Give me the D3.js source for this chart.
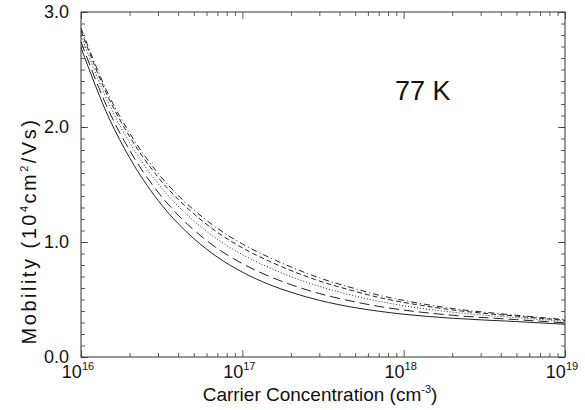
<!DOCTYPE html>
<html lang="en">
<head>
    <meta charset="UTF-8">
    <script src="https://cdn.jsdelivr.net/npm/d3@7"></script>
    <title>Mobility 77 K</title>
    <style>
        body {
            margin: 0;
            background: white;
        }

        text {
            font-family: "Liberation Sans", Arial, sans-serif;
            fill: #111;
        }

        .curve {
            fill: none;
            stroke: #222;
            stroke-width: 1px;
        }
    </style>
</head>
<body>
    <div id="chart"></div>

    <script>
        // carrier concentration (cm^-3) where the curves were read
        const concentration = [1e16, 1.5e16, 2e16, 3e16, 4e16, 5e16, 7e16, 1e17, 1.5e17, 2e17, 3e17, 5e17, 7e17, 1e18, 2e18, 5e18, 1e19];

        // mobility in 10^4 cm^2/Vs, lowest curve first
        const solidCurve = [2.69, 2.07, 1.733, 1.363, 1.16, 1.03, 0.869, 0.738, 0.625, 0.563, 0.493, 0.429, 0.398, 0.372, 0.337, 0.308, 0.285];
        const longDashCurve = [2.741, 2.129, 1.798, 1.434, 1.234, 1.105, 0.944, 0.812, 0.696, 0.629, 0.552, 0.479, 0.44, 0.408, 0.363, 0.325, 0.297];
        const dottedCurve = [2.795, 2.191, 1.866, 1.509, 1.312, 1.185, 1.024, 0.89, 0.771, 0.699, 0.614, 0.531, 0.485, 0.446, 0.39, 0.342, 0.31];
        const dashCurve = [2.836, 2.238, 1.918, 1.565, 1.371, 1.245, 1.084, 0.949, 0.827, 0.752, 0.661, 0.571, 0.518, 0.475, 0.41, 0.355, 0.319];
        const dashDotCurve = [2.86, 2.265, 1.948, 1.598, 1.405, 1.28, 1.119, 0.983, 0.86, 0.783, 0.688, 0.594, 0.538, 0.492, 0.422, 0.363, 0.325];

        const yTicks = [0, 1, 2, 3];
        const xTicks = [16, 17, 18, 19];

        const series = [
            { values: solidCurve, dash: null },
            { values: longDashCurve, dash: "10,5" },
            { values: dottedCurve, dash: "1,2" },
            { values: dashCurve, dash: "5,3" },
            { values: dashDotCurve, dash: "6,3,1,3" }
        ];

        const width = 585;
        const height = 410;
        const margin = { top: 12, right: 20, bottom: 53, left: 81 };
        const plotW = width - margin.left - margin.right;
        const plotH = height - margin.top - margin.bottom;

        const svg = d3.select("#chart").append("svg")
            .attr("width", width)
            .attr("height", height);

        const g = svg.append("g")
            .attr("transform", `translate(${margin.left},${margin.top})`);

        const x = d3.scaleLog().domain([1e16, 1e19]).range([0, plotW]);
        const y = d3.scaleLinear().domain([0, 3]).range([plotH, 0]);

        // minor ticks
        const xMinor = [];
        xTicks.slice(0, -1).forEach(p => {
            for (let k = 2; k <= 9; k++) xMinor.push(k * Math.pow(10, p));
        });
        const yMinor = d3.range(0, 31).map(i => i / 10);
        const xMajor = xTicks.map(p => Math.pow(10, p));

        const tickColor = "#333";

        // ticks point inside the frame on all four sides
        const addTicks = (axis, values, size, shift) => {
            g.append("g")
                .attr("transform", shift)
                .call(axis.tickValues(values).tickSize(-size).tickFormat(""))
                .call(a => a.select(".domain").remove());
        };
        addTicks(d3.axisLeft(y), yMinor, 4, "");
        addTicks(d3.axisLeft(y), yTicks, 7, "");
        addTicks(d3.axisRight(y), yMinor, 4, `translate(${plotW},0)`);
        addTicks(d3.axisRight(y), yTicks, 7, `translate(${plotW},0)`);
        addTicks(d3.axisBottom(x), xMinor, 4, `translate(0,${plotH})`);
        addTicks(d3.axisBottom(x), xMajor, 7, `translate(0,${plotH})`);
        addTicks(d3.axisTop(x), xMinor, 4, "");
        addTicks(d3.axisTop(x), xMajor, 7, "");

        g.selectAll(".tick line").attr("stroke", tickColor).attr("stroke-width", 0.8);

        // frame
        g.append("rect")
            .attr("width", plotW)
            .attr("height", plotH)
            .attr("fill", "none")
            .attr("stroke", tickColor)
            .attr("stroke-width", 1);

        // y tick labels
        g.selectAll(".ylab")
            .data(yTicks)
            .enter()
            .append("text")
            .attr("class", "ylab")
            .attr("x", -12)
            .attr("y", d => y(d) + 6)
            .attr("text-anchor", "end")
            .attr("font-size", 18)
            .text(d => d.toFixed(1));

        // x tick labels as 10^p
        const xl = g.selectAll(".xlab")
            .data(xTicks)
            .enter()
            .append("text")
            .attr("class", "xlab")
            .attr("x", d => x(Math.pow(10, d)) - 3)
            .attr("y", plotH + 21)
            .attr("text-anchor", "middle")
            .attr("font-size", 18);
        xl.append("tspan").text("10");
        xl.append("tspan")
            .attr("dy", -8)
            .attr("font-size", 11)
            .text(d => d);

        // curves
        const line = d3.line()
            .x((d, i) => x(concentration[i]))
            .y(d => y(d))
            .curve(d3.curveMonotoneX);

        g.selectAll(".curve")
            .data(series)
            .enter()
            .append("path")
            .attr("class", "curve")
            .attr("d", d => line(d.values))
            .attr("stroke-dasharray", d => d.dash);

        // annotation
        g.append("text")
            .attr("x", 314)
            .attr("y", 88)
            .attr("font-size", 27)
            .text("77 K");

        // axis titles
        const xt = svg.append("text")
            .attr("x", 320)
            .attr("y", 401)
            .attr("text-anchor", "middle")
            .attr("font-size", 19);
        xt.append("tspan").text("Carrier Concentration (cm");
        xt.append("tspan").attr("dy", -8).attr("font-size", 11).text("-3");
        xt.append("tspan").attr("dy", 8).text(")");

        const yt = svg.append("text")
            .attr("transform", "translate(36,231) rotate(-90)")
            .attr("text-anchor", "middle")
            .attr("font-size", 20)
            .attr("letter-spacing", 2.5);
        yt.append("tspan").text("Mobility (10");
        yt.append("tspan").attr("dy", -8).attr("font-size", 11).text("4");
        yt.append("tspan").attr("dy", 8).text("cm");
        yt.append("tspan").attr("dy", -8).attr("font-size", 11).text("2");
        yt.append("tspan").attr("dy", 8).text("/Vs)");
    </script>
</body>
</html>
